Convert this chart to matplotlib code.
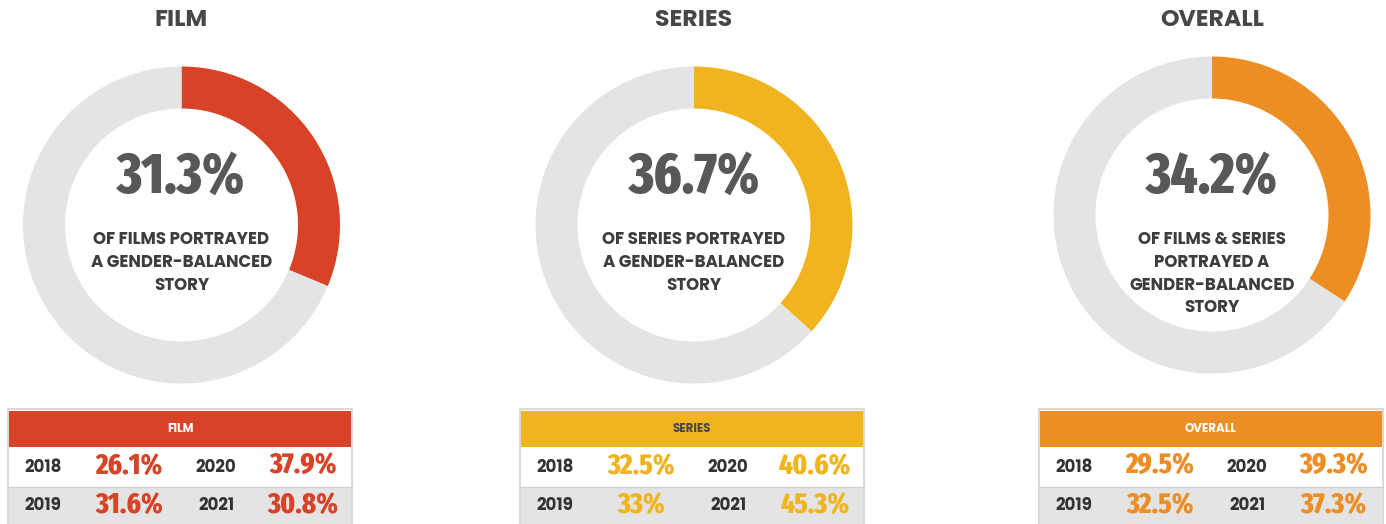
import matplotlib.pyplot as plt
from matplotlib.patches import Rectangle

W, H = 1386, 524

TITLES = ['FILM', 'SERIES', 'OVERALL']
TOTALS = [31.3, 36.7, 34.2]
TOTAL_LABELS = ['31.3%', '36.7%', '34.2%']
CAPTIONS = [
    ['OF FILMS PORTRAYED', 'A GENDER-BALANCED', 'STORY'],
    ['OF SERIES PORTRAYED', 'A GENDER-BALANCED', 'STORY'],
    ['OF FILMS & SERIES', 'PORTRAYED A', 'GENDER-BALANCED', 'STORY'],
]
YEARS = [['2018', '2020'], ['2019', '2021']]
FILM_BY_YEAR = [['26.1%', '37.9%'], ['31.6%', '30.8%']]
SERIES_BY_YEAR = [['32.5%', '40.6%'], ['33%', '45.3%']]
OVERALL_BY_YEAR = [['29.5%', '39.3%'], ['32.5%', '37.3%']]
BY_YEAR = [FILM_BY_YEAR, SERIES_BY_YEAR, OVERALL_BY_YEAR]

COLORS = ['#d84327', '#f0b41f', '#ed8e24']
HEADER_TEXT = ['white', '#4a4a4a', 'white']
RING_GRAY = '#e3e4e3'
DARK = '#3d3d3f'
NUM_GRAY = '#58575a'

# layout, in pixels from the top-left
CENTERS = [(181.5, 225), (694, 225), (1212, 215)]
R_OUT = 158.5
RING_W = 42
TABLE_LEFT = [8, 520, 1039]
TABLE_W = 344

NARROW = ['Fira Sans Extra Condensed', 'DejaVu Sans']
WIDE = ['Poppins', 'DejaVu Sans']


def py(y):
    return H - y


fig = plt.figure(figsize=(W / 100, H / 100), dpi=100)
ax = fig.add_axes([0, 0, 1, 1])

for i in range(3):
    cx, cy = CENTERS[i]
    ax.pie([TOTALS[i], 100 - TOTALS[i]], colors=[COLORS[i], RING_GRAY],
           center=(cx, py(cy)), radius=R_OUT, startangle=90, counterclock=False,
           wedgeprops=dict(width=RING_W, linewidth=0))

    ax.text(cx, py(20), TITLES[i], ha='center', va='center', fontsize=17,
            fontweight='bold', family=WIDE, color='#474747')

    lines = CAPTIONS[i]
    num_y = cy - 48 if len(lines) == 3 else cy - 38
    ax.text(cx, py(num_y), TOTAL_LABELS[i], ha='center', va='center', fontsize=41,
            fontweight=800, family=NARROW, color=NUM_GRAY)
    first = cy + 15 if len(lines) == 3 else cy + 25
    for k, line in enumerate(lines):
        ax.text(cx, py(first + k * 22.8), line, ha='center', va='center',
                fontsize=12, fontweight='bold', family=WIDE, color=DARK)

    # year table
    x0 = TABLE_LEFT[i]
    ax.add_patch(Rectangle((x0, py(530)), TABLE_W, 530 - 409, facecolor='white',
                           edgecolor='#d2d2d2', linewidth=1.2))
    ax.add_patch(Rectangle((x0 + 1, py(447)), TABLE_W - 2, 447 - 410.5,
                           facecolor=COLORS[i], linewidth=0))
    ax.add_patch(Rectangle((x0 + 1, py(530)), TABLE_W - 2, 530 - 487,
                           facecolor=RING_GRAY, linewidth=0))
    ax.plot([x0, x0 + TABLE_W], [py(486.5), py(486.5)], color='#cfd0cf', linewidth=1)
    ax.text(x0 + TABLE_W / 2, py(428.5), TITLES[i], ha='center', va='center',
            fontsize=8.5, fontweight='bold', family=WIDE, color=HEADER_TEXT[i])
    for r in range(2):
        ry = 467.5 if r == 0 else 506
        for c in range(2):
            ax.text(x0 + 35 + c * 173, py(ry), YEARS[r][c], ha='center', va='center',
                    fontsize=12, fontweight='bold', family=WIDE, color='#333333')
            ax.text(x0 + 121 + c * 174, py(ry - 1), BY_YEAR[i][r][c], ha='center',
                    va='center', fontsize=21, fontweight=800, family=NARROW,
                    color=COLORS[i])

ax.set_xlim(0, W)
ax.set_ylim(0, H)
ax.set_aspect('auto')
ax.axis('off')

fig.savefig('out.png', dpi=100)
